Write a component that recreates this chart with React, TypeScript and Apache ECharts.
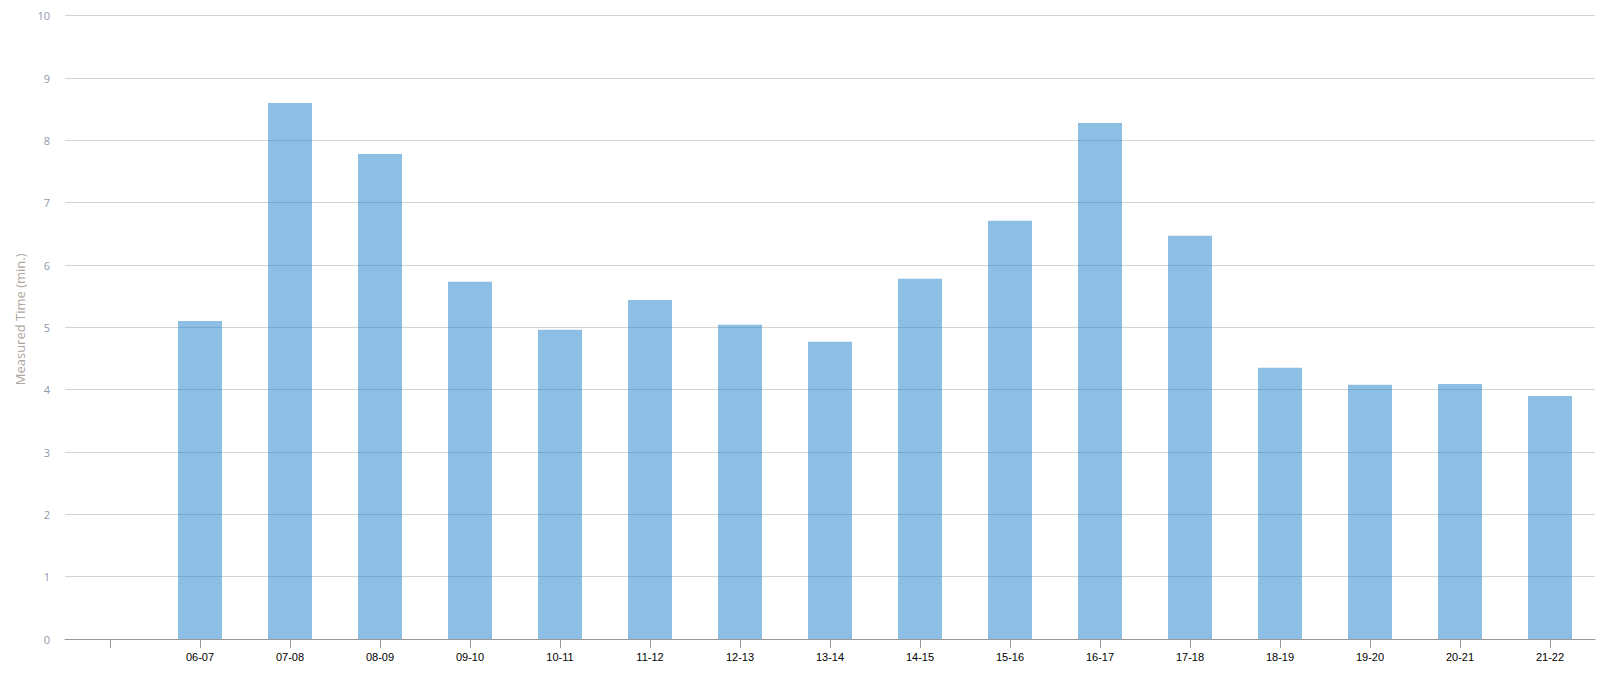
import React, { useEffect, useRef } from "react";
import * as echarts from "echarts";

const categories: string[] = [
  "", "06-07", "07-08", "08-09", "09-10", "10-11", "11-12", "12-13", "13-14",
  "14-15", "15-16", "16-17", "17-18", "18-19", "19-20", "20-21", "21-22",
];
const measuredTime: (number | null)[] = [
  null, 5.1, 8.6, 7.78, 5.73, 4.96, 5.44, 5.04, 4.77,
  5.78, 6.71, 8.28, 6.47, 4.35, 4.08, 4.09, 3.9,
];
const yTicks = { min: 0, max: 10, interval: 1 };
const yAxisTitle = "Measured Time (min.)";

export default function App() {
  const ref = useRef<HTMLDivElement>(null);
  useEffect(() => {
    if (!ref.current) return;
    const chart = echarts.init(ref.current, undefined, { renderer: "svg" });
    chart.setOption({
      animation: false,
      backgroundColor: "#ffffff",
      grid: { left: 57, right: 5, top: 7.7, bottom: 33, containLabel: false, outerBoundsMode: "none" },
      xAxis: {
        type: "category",
        data: categories,
        boundaryGap: true,
        axisLine: { show: true, lineStyle: { color: "#999999", width: 1 } },
        axisTick: { show: true, alignWithLabel: true, interval: 0, length: 9, lineStyle: { color: "#999999" } },
        axisLabel: {
          interval: 0,
          margin: 12,
          color: "#000000",
          fontSize: 11,
          fontFamily: "Liberation Sans, Arial, sans-serif",
        },
        splitLine: { show: false },
      },
      yAxis: {
        type: "value",
        min: yTicks.min,
        max: yTicks.max,
        interval: yTicks.interval,
        name: yAxisTitle,
        nameLocation: "middle",
        nameGap: 38,
        nameTextStyle: {
          color: "#aaa6a2",
          fontSize: 13,
          fontFamily: "Open Sans, sans-serif",
          padding: [0, 0, 0, 16],
        },
        axisLine: { show: false },
        axisTick: { show: false },
        axisLabel: {
          margin: 15,
          color: "#8e9aab",
          fontSize: 11,
          fontFamily: "Open Sans, sans-serif",
        },
        splitLine: { show: true, lineStyle: { color: "#d3d3d3", width: 1 } },
      },
      series: [
        {
          type: "bar",
          data: measuredTime,
          barWidth: 44,
          itemStyle: { color: "rgba(27,127,201,0.5)" },
          z: 3,
        },
      ],
    });
    return () => chart.dispose();
  }, []);
  return <div ref={ref} style={{ width: 1592, height: 664 }} />;
}
